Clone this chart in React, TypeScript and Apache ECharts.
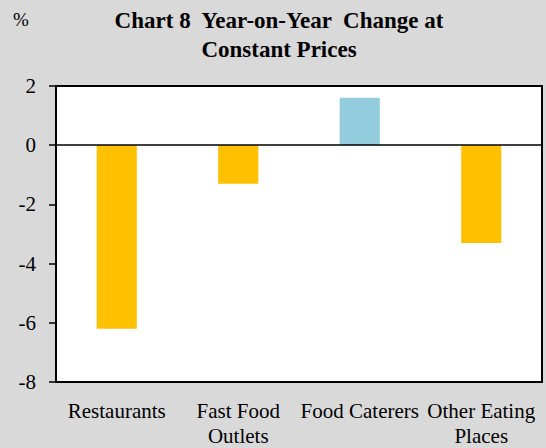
import React, { useEffect, useRef } from "react";
import * as echarts from "echarts";

const categories = ["Restaurants", "Fast Food\nOutlets", "Food Caterers", "Other Eating\nPlaces"];
const values = [-6.2, -1.3, 1.6, -3.3];
const yTicks = { min: -8, max: 2, interval: 2 };

export default function App() {
  const ref = useRef<HTMLDivElement>(null);
  useEffect(() => {
    document.body.style.margin = "0";
    const chart = echarts.init(ref.current!, null, { renderer: "svg" });
    const font = "Liberation Serif";
    chart.setOption({
      animation: false,
      backgroundColor: "#d9d9d9",
      textStyle: { fontFamily: font },
      title: {
        text: "Chart 8  Year-on-Year  Change at\nConstant Prices",
        left: 274,
        top: 1,
        textAlign: "center",
        textStyle: { fontFamily: font, fontSize: 23, fontWeight: "bold", color: "#000", lineHeight: 29 },
      },
      graphic: [
        {
          type: "text",
          left: 13,
          top: 10,
          style: { text: "%", fontFamily: font, fontSize: 19, fill: "#000" },
        },
      ],
      grid: {
        left: 56,
        right: 4,
        top: 86,
        bottom: 62,
        show: true,
        backgroundColor: "#fff",
        borderColor: "#000",
        borderWidth: 2,
      },
      xAxis: {
        type: "category",
        data: categories,
        axisLine: { show: false },
        axisTick: { show: false },
        axisLabel: {
          interval: 0,
          margin: 16,
          fontFamily: font,
          fontSize: 21,
          color: "#000",
          lineHeight: 25,
        },
      },
      yAxis: {
        type: "value",
        min: yTicks.min,
        max: yTicks.max,
        interval: yTicks.interval,
        splitLine: { show: false },
        axisLine: { show: true, lineStyle: { color: "#000", width: 2 } },
        axisTick: { show: true, inside: false, length: 7, lineStyle: { color: "#000", width: 1.5 } },
        axisLabel: { margin: 20, fontFamily: font, fontSize: 21, color: "#000" },
      },
      series: [
        {
          type: "bar",
          barWidth: "33%",
          data: values.map((v) => ({
            value: v,
            itemStyle: { color: v >= 0 ? "#93cddd" : "#ffc000" },
          })),
          markLine: {
            silent: true,
            symbol: "none",
            label: { show: false },
            lineStyle: { color: "#000", type: "solid", width: 1.5 },
            data: [{ yAxis: 0 }],
          },
        },
      ],
    });
    return () => chart.dispose();
  }, []);
  return <div ref={ref} style={{ width: 546, height: 448 }} />;
}
